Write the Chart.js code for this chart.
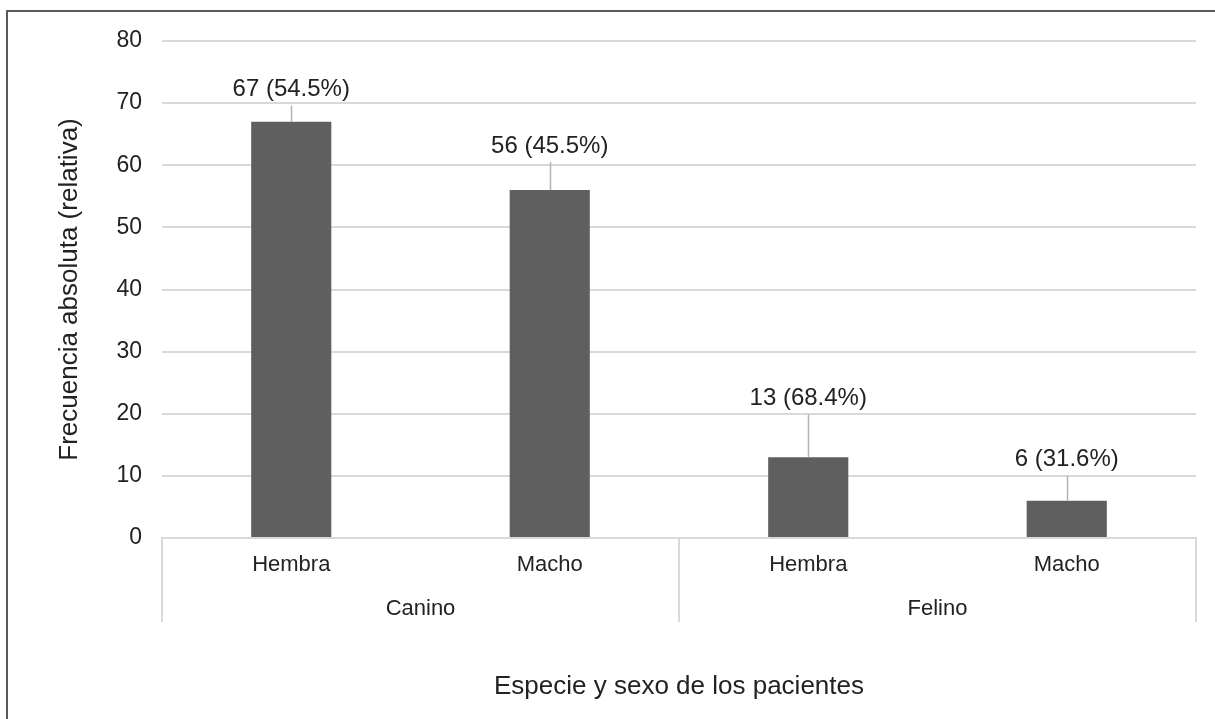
<!DOCTYPE html>
<html>
<head>
<meta charset="utf-8">
<script src="https://cdn.jsdelivr.net/npm/chart.js@4/dist/chart.umd.min.js"></script>
<style>
    html, body { margin: 0; padding: 0; background: #ffffff; }
    #wrap { width: 1215px; height: 719px; position: relative; }
</style>
</head>
<body>
<div id="wrap"><canvas id="sexoChart" width="1215" height="719"></canvas></div>
<script>
// datos del grafico
const categorias = ['Hembra', 'Macho', 'Hembra', 'Macho'];
const especies = ['Canino', 'Felino'];
const frecuencias = [67, 56, 13, 6];
const porcentajes = ['54.5%', '45.5%', '68.4%', '31.6%'];
const yTicks = [0, 10, 20, 30, 40, 50, 60, 70, 80];

// distancia (px) entre la barra y su etiqueta, como en el original
const labelOffsets = [32, 44, 59, 41];

const textColor = '#222222';
const lineGrey = '#d9d9d9';

function makeLabels() {
    let out = [];
    for (let i = 0; i < frecuencias.length; i++) {
        out.push(frecuencias[i] + ' (' + porcentajes[i] + ')');
    }
    return out;
}

const etiquetas = makeLabels();

const calloutPlugin = {
    id: 'callouts',
    afterDatasetsDraw(chart) {
        const ctx = chart.ctx;
        const meta = chart.getDatasetMeta(0);
        ctx.save();
        ctx.font = '24px "Liberation Sans", Arial, sans-serif';
        ctx.textAlign = 'center';
        ctx.textBaseline = 'middle';
        meta.data.forEach((bar, i) => {
            let textY = bar.y - labelOffsets[i];
            ctx.strokeStyle = '#b3b3b3';
            ctx.lineWidth = 1.5;
            ctx.beginPath();
            ctx.moveTo(Math.round(bar.x) + 0.5, bar.y);
            ctx.lineTo(Math.round(bar.x) + 0.5, textY + 16);
            ctx.stroke();
            ctx.fillStyle = textColor;
            ctx.fillText(etiquetas[i], bar.x, textY);
        });
        ctx.restore();
    }
};

const groupAxisPlugin = {
    id: 'groupAxis',
    afterDraw(chart) {
        const ctx = chart.ctx;
        const area = chart.chartArea;
        const xScale = chart.scales.x;
        const perGroup = categorias.length / especies.length;
        ctx.save();
        // separadores del eje de dos niveles
        ctx.strokeStyle = lineGrey;
        ctx.lineWidth = 2;
        for (let g = 0; g <= especies.length; g++) {
            let x;
            if (g === 0) x = area.left;
            else if (g === especies.length) x = area.right;
            else x = (xScale.getPixelForValue(g * perGroup - 1) + xScale.getPixelForValue(g * perGroup)) / 2;
            ctx.beginPath();
            ctx.moveTo(Math.round(x), area.bottom);
            ctx.lineTo(Math.round(x), area.bottom + 84);
            ctx.stroke();
        }
        ctx.font = '22px "Liberation Sans", Arial, sans-serif';
        ctx.fillStyle = textColor;
        ctx.textAlign = 'center';
        ctx.textBaseline = 'middle';
        for (let g = 0; g < especies.length; g++) {
            let x0 = xScale.getPixelForValue(g * perGroup);
            let x1 = xScale.getPixelForValue(g * perGroup + perGroup - 1);
            ctx.fillText(especies[g], (x0 + x1) / 2, area.bottom + 71);
        }
        // marco exterior (solo izquierda y arriba visibles)
        ctx.strokeStyle = '#5a5a5a';
        ctx.lineWidth = 2;
        ctx.beginPath();
        ctx.moveTo(7, chart.height);
        ctx.lineTo(7, 11);
        ctx.lineTo(chart.width, 11);
        ctx.stroke();
        ctx.restore();
    }
};

function createChart(chartId) {
    let ctx = document.getElementById(chartId).getContext('2d');
    let dataset = {
        labels: categorias,
        datasets: [{
            label: 'Frecuencia',
            data: frecuencias,
            backgroundColor: '#5f5f5f',
            barPercentage: 0.31,
            categoryPercentage: 1.0
        }]
    };
    let config = {
        type: 'bar',
        data: dataset,
        plugins: [calloutPlugin, groupAxisPlugin],
        options: {
            responsive: false,
            animation: false,
            layout: {
                padding: { left: 0, top: 41, right: 19, bottom: 0 }
            },
            scales: {
                y: {
                    min: 0,
                    max: 80,
                    afterBuildTicks: (scale) => {
                        scale.ticks = yTicks.map(v => ({ value: v }));
                    },
                    afterFit: (scale) => {
                        scale.width = 162;
                        scale.paddingTop = 0;
                        scale.paddingBottom = 0;
                    },
                    grid: {
                        color: lineGrey,
                        lineWidth: 2,
                        drawTicks: false
                    },
                    border: { display: false },
                    ticks: {
                        padding: 20,
                        color: textColor,
                        font: { family: '"Liberation Sans", Arial, sans-serif', size: 23 }
                    },
                    title: {
                        display: true,
                        text: 'Frecuencia absoluta (relativa)',
                        color: textColor,
                        padding: { top: 54, bottom: 0 },
                        font: { family: '"Liberation Sans", Arial, sans-serif', size: 26 }
                    }
                },
                x: {
                    afterFit: (scale) => {
                        scale.height = 181;
                        scale.paddingLeft = 0;
                        scale.paddingRight = 0;
                    },
                    grid: { display: false, drawTicks: false },
                    border: { display: true, color: lineGrey, width: 2 },
                    ticks: {
                        padding: 14,
                        maxRotation: 0,
                        color: textColor,
                        font: { family: '"Liberation Sans", Arial, sans-serif', size: 22 }
                    },
                    title: {
                        display: true,
                        text: 'Especie y sexo de los pacientes',
                        color: textColor,
                        padding: { top: 0, bottom: 17 },
                        font: { family: '"Liberation Sans", Arial, sans-serif', size: 26 }
                    }
                }
            },
            plugins: {
                legend: { display: false },
                tooltip: { enabled: false }
            }
        }
    };
    return new Chart(ctx, config);
}

createChart('sexoChart');
</script>
</body>
</html>
